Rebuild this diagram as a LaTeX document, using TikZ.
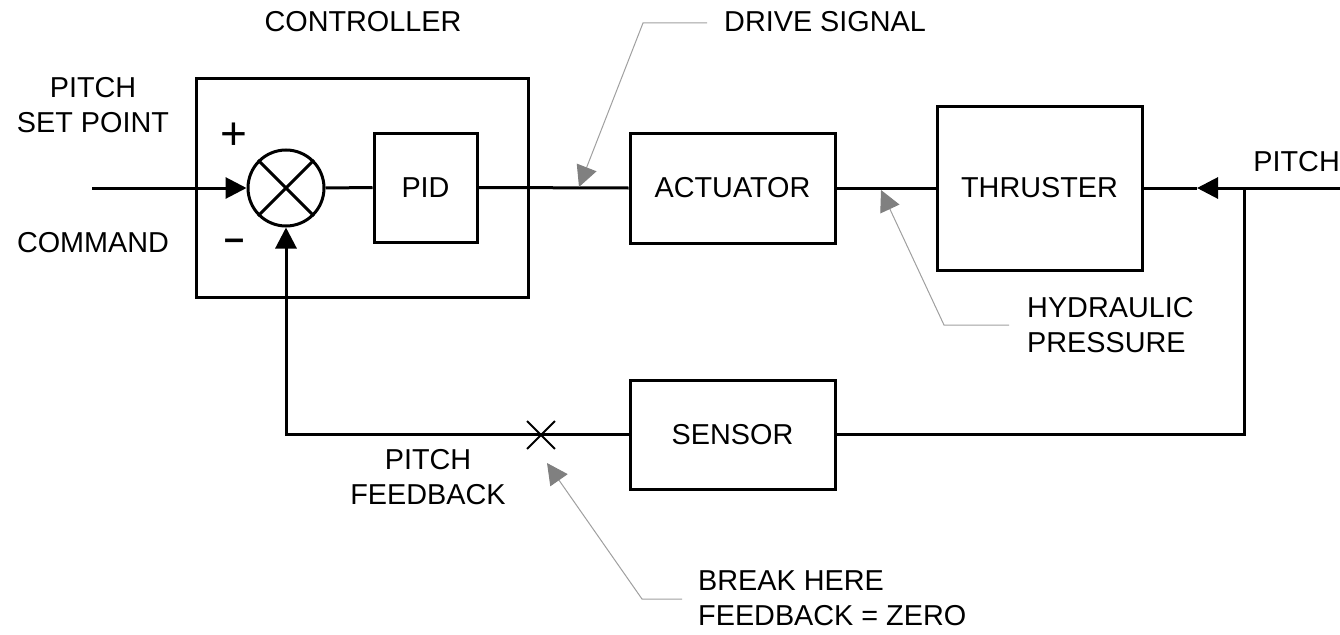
\documentclass[tikz,border=0pt]{standalone}
\usepackage{fontspec}
\setmainfont{Liberation Sans}
\usetikzlibrary{arrows.meta,shapes.misc}

\begin{document}
\begin{tikzpicture}[x=1pt,y=-1pt,
  wire/.style={line width=3pt},
  blockbox/.style={draw,line width=3pt,inner sep=0pt,
    font=\fontsize{28.8}{35}\selectfont},
  lbl/.style={inner sep=0pt,font=\fontsize{28.8}{35}\selectfont},
  tip/.style={-{Triangle[length=21pt,width=21pt]}},
  leader/.style={draw=gray!75,line width=1pt,
    -{Triangle[length=21pt,width=21pt,color=gray]}}]

\useasboundingbox (0,0) rectangle (1340,634);

% controller frame with summing junction and PID
\node[blockbox,minimum width=332pt,minimum height=219pt] (ctrl) at (362,187.5) {};
\node[draw,circle,line width=3pt,minimum size=76pt,inner sep=0pt] (sum) at (286,188) {};
\draw[line width=3pt] (sum.45) -- (sum.225) (sum.135) -- (sum.315);
\node[blockbox,minimum width=103pt,minimum height=109pt] (pid) at (425.5,187.5) {PID};

% plant blocks
\node[blockbox,minimum width=205pt,minimum height=110pt] (act) at (732.5,188) {ACTUATOR};
\node[blockbox,minimum width=205pt,minimum height=164pt] (thr) at (1039.5,188) {THRUSTER};
\node[blockbox,minimum width=205pt,minimum height=109pt] (sen) at (732.5,434.5) {SENSOR};

% signs at the summing junction
\node[inner sep=0pt,font=\fontsize{46}{46}\selectfont] (plus) at (234,136) {+};
\node[inner sep=0pt,font=\fontsize{36}{36}\selectfont\bfseries] (minus) at (235,245) {–};

% forward path
\coordinate (in) at (92,188);
\coordinate (out) at (1340,188);
\coordinate (arrR) at (1197,188);
\coordinate (tap) at (1244,188);
\draw[wire,tip] (in) -- (sum.west);
\draw[wire] (sum.east) -- (pid.west);
\draw[wire] (pid.east) -- (act.west);
\draw[wire] (act.east) -- (thr.west);
\draw[wire,tip] (out) -- (arrR);
\draw[wire] (arrR) -- (thr.east);

% feedback path
\draw[wire] (tap) |- (sen.east);
\draw[wire,tip] (sen.west) -| (sum.south);
\node[cross out,draw,line width=1.8pt,minimum size=26pt,inner sep=0pt] (brk) at (541,435) {};

% labels
\node[lbl] (lctrl) at (363,22) {CONTROLLER};
\node[lbl,align=center] (lset) at (93,105.5) {PITCH\\SET POINT};
\node[lbl] (lcmd) at (93,243) {COMMAND};
\node[lbl,anchor=west] (ldrive) at (724,22) {DRIVE SIGNAL};
\node[lbl,anchor=west,align=left] (lhyd) at (1027,325) {HYDRAULIC\\PRESSURE};
\node[lbl,anchor=east] (lpitch) at (1340,162) {PITCH};
\node[lbl,align=center] (lfb) at (428,477) {PITCH\\FEEDBACK};
\node[lbl,anchor=west,align=left] (lbrk) at (698,598.5) {BREAK HERE\\FEEDBACK = ZERO};

% gray leader arrows
\coordinate (dsA) at (707,23);
\coordinate (dsB) at (643,23);
\coordinate (dsT) at (579,187);
\draw[leader] (dsA) -- (dsB) -- (dsT);
\coordinate (hyA) at (1009,325);
\coordinate (hyB) at (944,325);
\coordinate (hyT) at (881,190);
\draw[leader] (hyA) -- (hyB) -- (hyT);
\coordinate (bkA) at (682,599);
\coordinate (bkB) at (642,599);
\coordinate (bkT) at (547,463);
\draw[leader] (bkA) -- (bkB) -- (bkT);

\end{tikzpicture}
\end{document}
